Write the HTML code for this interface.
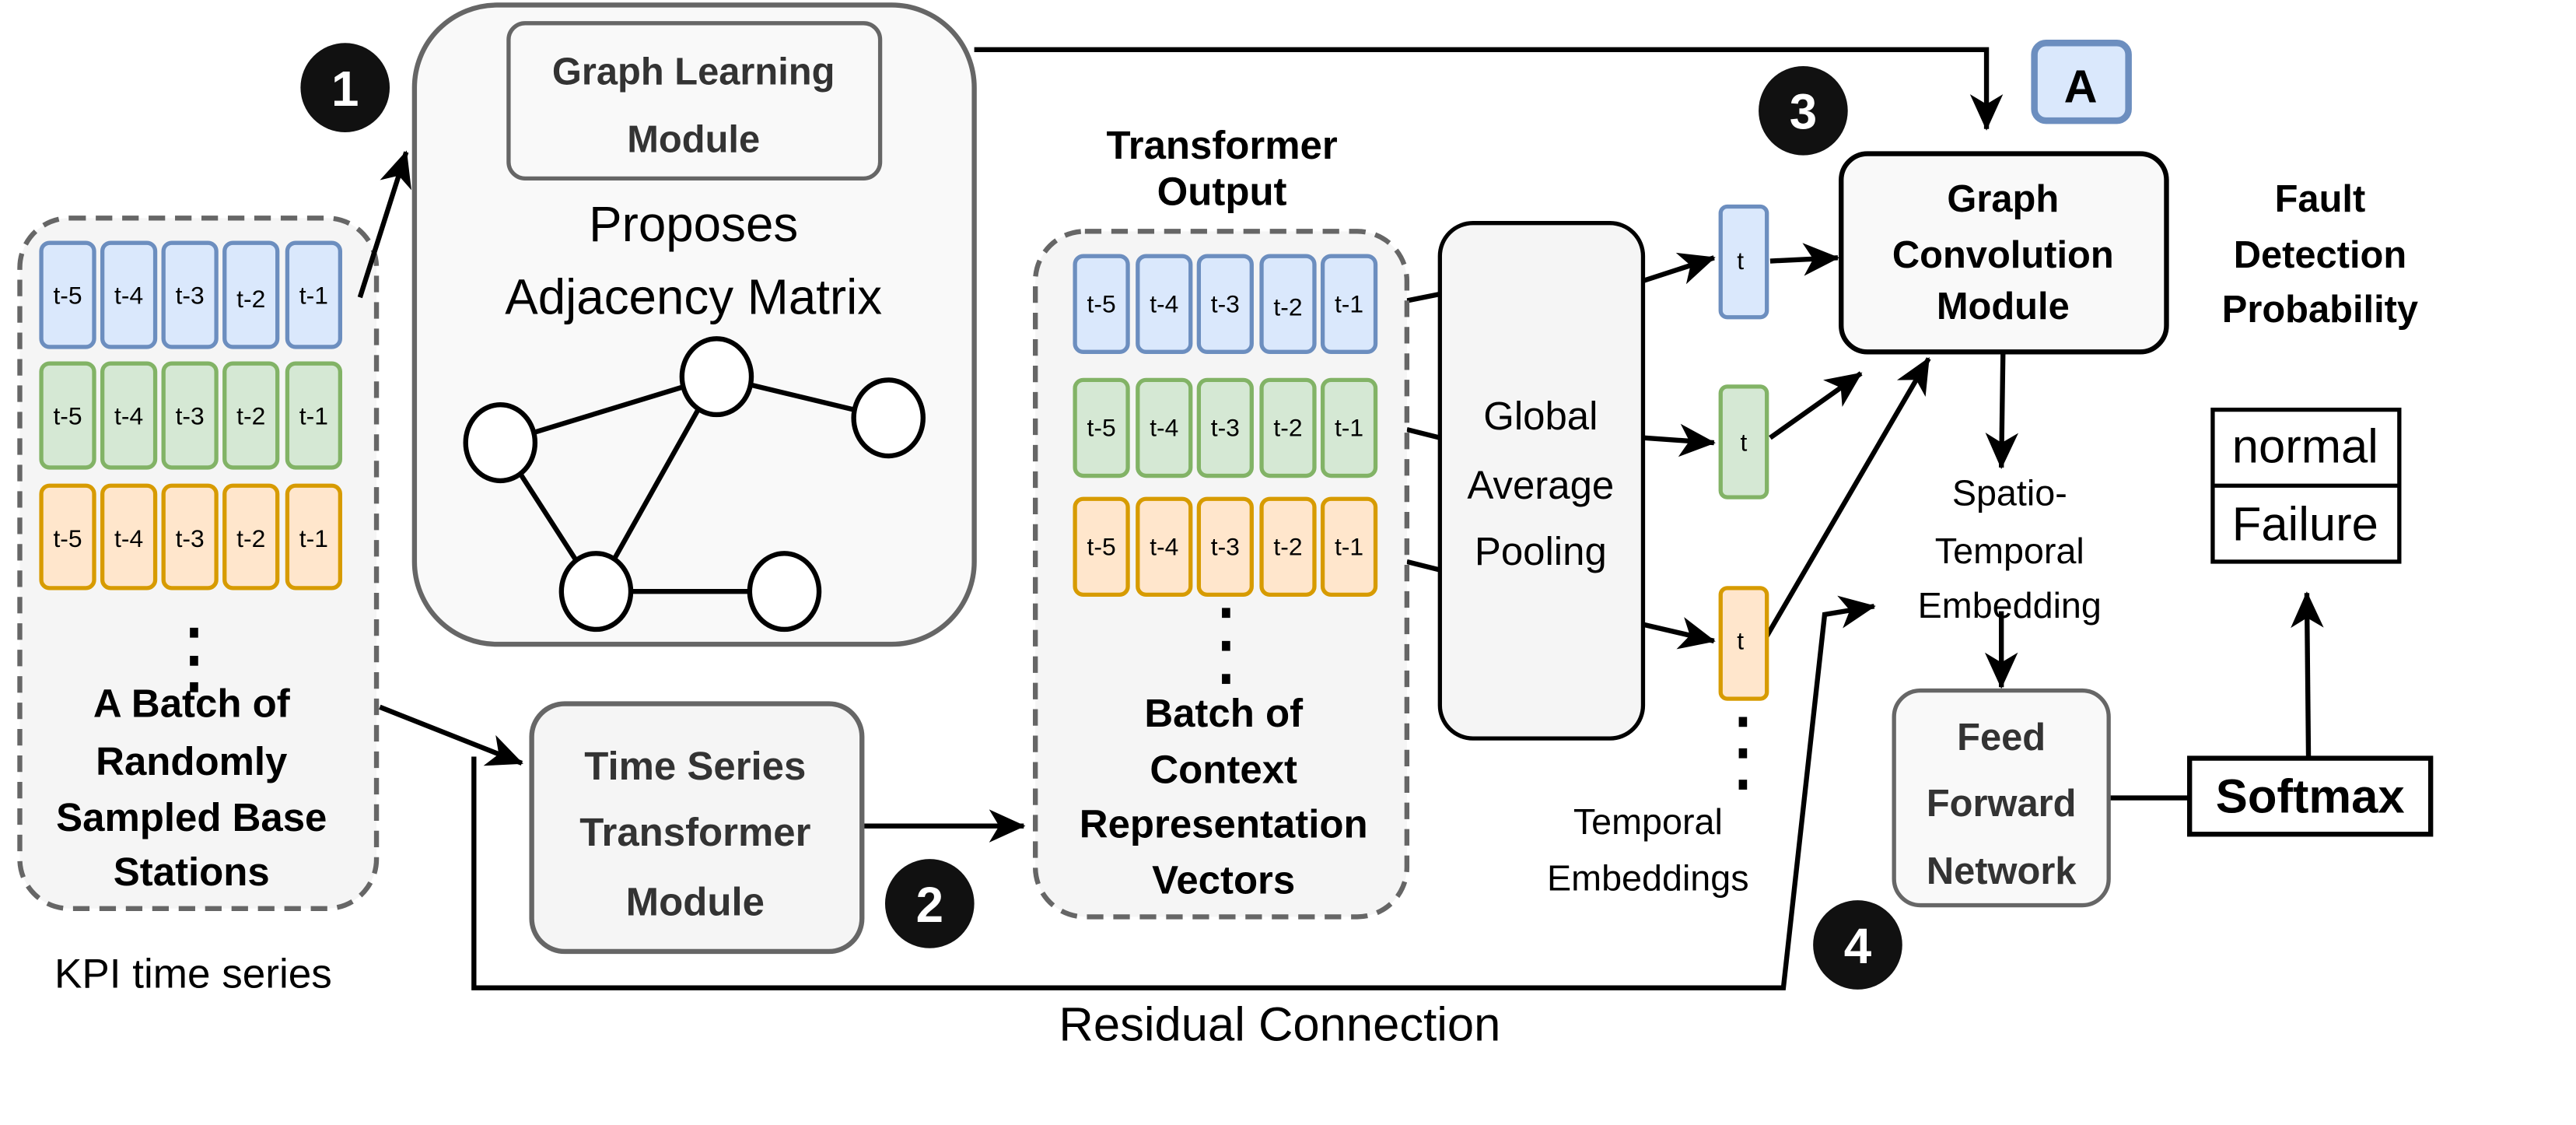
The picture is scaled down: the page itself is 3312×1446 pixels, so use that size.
<!DOCTYPE html>
<html><head><meta charset="utf-8"><style>html,body{margin:0;padding:0;background:#fff}svg{display:block}text{font-family:"Liberation Sans",sans-serif}</style></head><body>
<svg width="3312" height="1446" viewBox="0 0 1560 681" xmlns="http://www.w3.org/2000/svg">
<defs><marker id="a" viewBox="-15 -15 30 30" refX="9" refY="0" markerWidth="30" markerHeight="30" orient="auto" markerUnits="userSpaceOnUse"><path d="M-12,-10 L10,0 L-12,10 L-6,0Z" fill="#000"/></marker></defs>
<!-- left dashed box -->
<rect x="12" y="132" width="216" height="418" rx="30" fill="#f5f5f5" stroke="#666" stroke-width="3" stroke-dasharray="10,6"/>
<g stroke-width="2.5">
<g fill="#dae8fc" stroke="#6c8ebf"><rect x="25" y="147" width="32" height="63" rx="5"/><rect x="62" y="147" width="32" height="63" rx="5"/><rect x="99" y="147" width="32" height="63" rx="5"/><rect x="136" y="147" width="32" height="63" rx="5"/><rect x="174" y="147" width="32" height="63" rx="5"/></g>
<g fill="#d5e8d4" stroke="#82b366"><rect x="25" y="220" width="32" height="63" rx="5"/><rect x="62" y="220" width="32" height="63" rx="5"/><rect x="99" y="220" width="32" height="63" rx="5"/><rect x="136" y="220" width="32" height="63" rx="5"/><rect x="174" y="220" width="32" height="63" rx="5"/></g>
<g fill="#ffe6cc" stroke="#d79b00"><rect x="25" y="294" width="32" height="62" rx="5"/><rect x="62" y="294" width="32" height="62" rx="5"/><rect x="99" y="294" width="32" height="62" rx="5"/><rect x="136" y="294" width="32" height="62" rx="5"/><rect x="174" y="294" width="32" height="62" rx="5"/></g>
</g>
<g font-size="15" text-anchor="middle">
<text x="41" y="184">t-5</text><text x="78" y="184">t-4</text><text x="115" y="184">t-3</text><text x="152" y="186">t-2</text><text x="190" y="184">t-1</text>
<text x="41" y="257">t-5</text><text x="78" y="257">t-4</text><text x="115" y="257">t-3</text><text x="152" y="257">t-2</text><text x="190" y="257">t-1</text>
<text x="41" y="331">t-5</text><text x="78" y="331">t-4</text><text x="115" y="331">t-3</text><text x="152" y="331">t-2</text><text x="190" y="331">t-1</text>
</g>
<g fill="#000"><rect x="115" y="380" width="5" height="6"/><rect x="115" y="397" width="5" height="6"/><rect x="115" y="413" width="5" height="6"/></g>
<g font-size="24" font-weight="bold" text-anchor="middle">
<text x="116" y="434">A Batch of</text><text x="116" y="469">Randomly</text><text x="116" y="503">Sampled Base</text><text x="116" y="536">Stations</text>
</g>
<text x="117" y="598" font-size="25" text-anchor="middle">KPI time series</text>
<!-- graph learning -->
<rect x="251" y="3" width="339" height="387" rx="50" fill="#f9f9f9" stroke="#666" stroke-width="3"/>
<rect x="308" y="14" width="225" height="94" rx="10" fill="#f9f9f9" stroke="#666" stroke-width="2.5"/>
<text x="420" y="51" font-size="23" font-weight="bold" fill="#333" text-anchor="middle">Graph Learning</text>
<text x="420" y="92" font-size="23" font-weight="bold" fill="#333" text-anchor="middle">Module</text>
<text x="420" y="146" font-size="30" text-anchor="middle">Proposes</text>
<text x="420" y="190" font-size="30" text-anchor="middle">Adjacency Matrix</text>
<g stroke="#000" stroke-width="3">
<line x1="303" y1="268" x2="434" y2="228"/><line x1="434" y1="228" x2="538" y2="253"/><line x1="303" y1="268" x2="361" y2="358"/><line x1="434" y1="228" x2="361" y2="358"/><line x1="361" y1="358" x2="475" y2="358"/>
<g fill="#fff"><ellipse cx="303" cy="268" rx="21" ry="23"/><ellipse cx="434" cy="228" rx="21" ry="23"/><ellipse cx="538" cy="253" rx="21" ry="23"/><ellipse cx="361" cy="358" rx="21" ry="23"/><ellipse cx="475" cy="358" rx="21" ry="23"/></g>
</g>
<!-- number circles -->
<g font-size="30" font-weight="bold" text-anchor="middle" fill="#fff">
<circle cx="209" cy="53" r="27" fill="#111"/><text x="209" y="64">1</text>
<circle cx="563" cy="547" r="27" fill="#111"/><text x="563" y="558">2</text>
<circle cx="1092" cy="67" r="27" fill="#111"/><text x="1092" y="78">3</text>
<circle cx="1125" cy="572" r="27" fill="#111"/><text x="1125" y="583">4</text>
</g>
<!-- connectors -->
<g stroke="#000" stroke-width="3" fill="none">
<line x1="218" y1="180" x2="246" y2="92" marker-end="url(#a)"/>
<polyline points="590,30 1203,30 1203,78" marker-end="url(#a)"/>
<line x1="230" y1="428" x2="316" y2="462" marker-end="url(#a)"/>
<line x1="522" y1="500" x2="620" y2="500" marker-end="url(#a)"/>
<polyline points="287,458 287,598 1080,598 1105,372 1135,367" marker-end="url(#a)"/>
<line x1="852" y1="182" x2="872" y2="178"/><line x1="852" y1="260" x2="872" y2="265"/><line x1="852" y1="340" x2="872" y2="345"/>
<line x1="995" y1="170" x2="1038" y2="156" marker-end="url(#a)"/>
<line x1="995" y1="265" x2="1038" y2="268" marker-end="url(#a)"/>
<line x1="995" y1="378" x2="1038" y2="388" marker-end="url(#a)"/>
<line x1="1072" y1="158" x2="1113" y2="156" marker-end="url(#a)"/>
<line x1="1072" y1="265" x2="1127" y2="226" marker-end="url(#a)"/>
<line x1="1070" y1="385" x2="1168" y2="217" marker-end="url(#a)"/>
<line x1="1213" y1="213" x2="1212" y2="283" marker-end="url(#a)"/>
<line x1="1212" y1="370" x2="1212" y2="416" marker-end="url(#a)"/>
<line x1="1277" y1="483" x2="1326" y2="483"/>
<line x1="1398" y1="459" x2="1397" y2="359" marker-end="url(#a)"/>
</g>
<!-- A -->
<rect x="1232" y="26" width="57" height="47" rx="7" fill="#dae8fc" stroke="#6c8ebf" stroke-width="4"/>
<text x="1260" y="62" font-size="28" font-weight="bold" text-anchor="middle">A</text>
<!-- time series transformer -->
<rect x="322" y="426" width="200" height="150" rx="20" fill="#f5f5f5" stroke="#666" stroke-width="3"/>
<g font-size="24" font-weight="bold" fill="#333" text-anchor="middle"><text x="421" y="472">Time Series</text><text x="421" y="512">Transformer</text><text x="421" y="554">Module</text></g>
<!-- transformer output -->
<text x="740" y="96" font-size="24" font-weight="bold" text-anchor="middle">Transformer</text>
<text x="740" y="124" font-size="24" font-weight="bold" text-anchor="middle">Output</text>
<rect x="627" y="140" width="225" height="415" rx="30" fill="#f5f5f5" stroke="#666" stroke-width="3" stroke-dasharray="10,6"/>
<g stroke-width="2.5">
<g fill="#dae8fc" stroke="#6c8ebf"><rect x="651" y="155" width="32" height="58" rx="5"/><rect x="689" y="155" width="32" height="58" rx="5"/><rect x="726" y="155" width="32" height="58" rx="5"/><rect x="764" y="155" width="32" height="58" rx="5"/><rect x="801" y="155" width="32" height="58" rx="5"/></g>
<g fill="#d5e8d4" stroke="#82b366"><rect x="651" y="230" width="32" height="58" rx="5"/><rect x="689" y="230" width="32" height="58" rx="5"/><rect x="726" y="230" width="32" height="58" rx="5"/><rect x="764" y="230" width="32" height="58" rx="5"/><rect x="801" y="230" width="32" height="58" rx="5"/></g>
<g fill="#ffe6cc" stroke="#d79b00"><rect x="651" y="302" width="32" height="58" rx="5"/><rect x="689" y="302" width="32" height="58" rx="5"/><rect x="726" y="302" width="32" height="58" rx="5"/><rect x="764" y="302" width="32" height="58" rx="5"/><rect x="801" y="302" width="32" height="58" rx="5"/></g>
</g>
<g font-size="15" text-anchor="middle">
<text x="667" y="189">t-5</text><text x="705" y="189">t-4</text><text x="742" y="189">t-3</text><text x="780" y="191">t-2</text><text x="817" y="189">t-1</text>
<text x="667" y="264">t-5</text><text x="705" y="264">t-4</text><text x="742" y="264">t-3</text><text x="780" y="264">t-2</text><text x="817" y="264">t-1</text>
<text x="667" y="336">t-5</text><text x="705" y="336">t-4</text><text x="742" y="336">t-3</text><text x="780" y="336">t-2</text><text x="817" y="336">t-1</text>
</g>
<g fill="#000"><rect x="740" y="368" width="5" height="6"/><rect x="740" y="388" width="5" height="6"/><rect x="740" y="408" width="5" height="6"/></g>
<g font-size="24" font-weight="bold" text-anchor="middle"><text x="741" y="440">Batch of</text><text x="741" y="474">Context</text><text x="741" y="507">Representation</text><text x="741" y="541">Vectors</text></g>
<!-- GAP -->
<rect x="872" y="135" width="123" height="312" rx="20" fill="#f5f5f5" stroke="#000" stroke-width="2.5"/>
<g font-size="24" text-anchor="middle"><text x="933" y="260">Global</text><text x="933" y="302">Average</text><text x="933" y="342">Pooling</text></g>
<!-- t boxes -->
<rect x="1042" y="125" width="28" height="67" rx="4" fill="#dae8fc" stroke="#6c8ebf" stroke-width="2.5"/>
<rect x="1042" y="234" width="28" height="67" rx="4" fill="#d5e8d4" stroke="#82b366" stroke-width="2.5"/>
<rect x="1042" y="356" width="28" height="67" rx="4" fill="#ffe6cc" stroke="#d79b00" stroke-width="2.5"/>
<g font-size="15" text-anchor="middle"><text x="1054" y="163">t</text><text x="1056" y="273">t</text><text x="1054" y="393">t</text></g>
<g fill="#000"><rect x="1053" y="434" width="5" height="6"/><rect x="1053" y="453" width="5" height="6"/><rect x="1053" y="472" width="5" height="6"/></g>
<g font-size="22" text-anchor="middle"><text x="998" y="505">Temporal</text><text x="998" y="539">Embeddings</text></g>
<!-- GCM -->
<rect x="1115" y="93" width="197" height="120" rx="16" fill="#f9f9f9" stroke="#000" stroke-width="3"/>
<g font-size="23" font-weight="bold" text-anchor="middle"><text x="1213" y="128">Graph</text><text x="1213" y="162">Convolution</text><text x="1213" y="193">Module</text></g>
<g font-size="23" font-weight="bold" text-anchor="middle"><text x="1405" y="128">Fault</text><text x="1405" y="162">Detection</text><text x="1405" y="195">Probability</text></g>
<g font-size="22" text-anchor="middle"><text x="1217" y="306">Spatio-</text><text x="1217" y="341">Temporal</text><text x="1217" y="374">Embedding</text></g>
<!-- FFN -->
<rect x="1147" y="418" width="130" height="130" rx="16" fill="#f9f9f9" stroke="#666" stroke-width="2.5"/>
<g font-size="23" font-weight="bold" fill="#333" text-anchor="middle"><text x="1212" y="454">Feed</text><text x="1212" y="494">Forward</text><text x="1212" y="535">Network</text></g>
<rect x="1326" y="459" width="146" height="46" fill="#fff" stroke="#000" stroke-width="3"/>
<text x="1399" y="492" font-size="29" font-weight="bold" text-anchor="middle">Softmax</text>
<rect x="1340" y="248" width="113" height="92" fill="#fff" stroke="#000" stroke-width="2.5"/>
<line x1="1340" y1="294" x2="1453" y2="294" stroke="#000" stroke-width="2.5"/>
<g font-size="29" text-anchor="middle"><text x="1396" y="280">normal</text><text x="1396" y="327">Failure</text></g>
<text x="775" y="630" font-size="29" text-anchor="middle">Residual Connection</text>
</svg>
</body></html>
